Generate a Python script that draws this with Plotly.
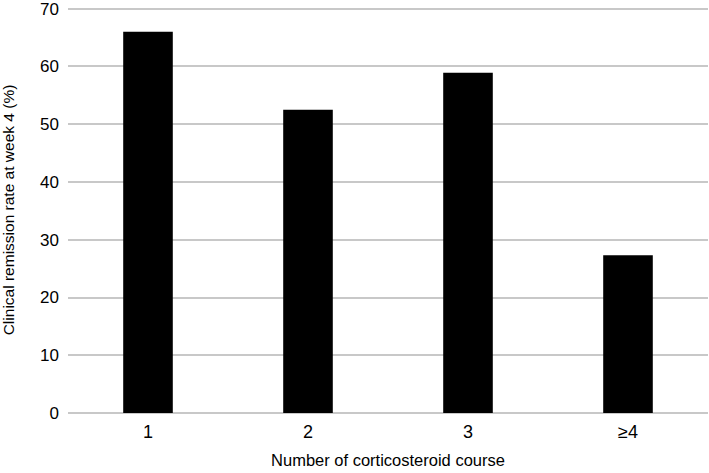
import plotly.graph_objects as go

categories = ["1", "2", "3", "≥4"]
remission_rate = [66.0, 52.5, 58.9, 27.3]
y_ticks = [0, 10, 20, 30, 40, 50, 60, 70]

fig = go.Figure(go.Bar(x=categories, y=remission_rate, marker=dict(color="black", line=dict(width=0))))
fig.update_layout(
    width=709, height=473,
    margin=dict(l=68, r=1, t=7, b=60),
    plot_bgcolor="white", paper_bgcolor="white",
    bargap=0.69,
    showlegend=False,
    font=dict(family="Liberation Sans, Arial, sans-serif", color="black"),
)
fig.update_xaxes(
    automargin=False,
    showgrid=False, showline=False, ticks="",
    tickfont=dict(size=18), ticklabelstandoff=6,
    title=dict(text="Number of corticosteroid course", font=dict(size=16.5), standoff=13),
)
fig.update_yaxes(
    automargin=False,
    range=[0, 70.3], tickvals=y_ticks, showgrid=True, gridcolor="#c8c8c8", gridwidth=1.5,
    zeroline=True, zerolinecolor="#c8c8c8", zerolinewidth=1.5,
    showline=False, ticks="", tickfont=dict(size=17), ticklabelstandoff=8,
    ticklabeloverflow="allow",
    title=dict(text="Clinical remission rate at week 4 (%)", font=dict(size=15.5), standoff=22),
)
fig.write_html("out.html", config={"displayModeBar": False},
               post_script="document.body.style.margin='0';")
